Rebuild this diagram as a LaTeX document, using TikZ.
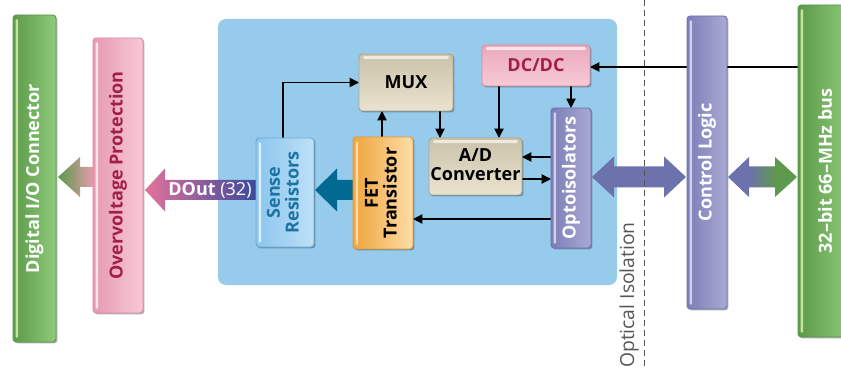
\documentclass[tikz,border=0pt]{standalone}
\usepackage{fontspec}
\setmainfont{Open Sans}
\usetikzlibrary{shadows,arrows.meta,calc}
\pgfdeclarelayer{bg}
\pgfdeclarelayer{arr}
\pgfsetlayers{bg,arr,main}
\definecolor{panelblue}{HTML}{97CBEC}
\definecolor{grD}{HTML}{5C9A4A}
\definecolor{grL}{HTML}{8ECC7C}
\definecolor{grB}{HTML}{5A9648}
\definecolor{grS}{HTML}{C2E49C}
\definecolor{pkD}{HTML}{E69AAF}
\definecolor{pkL}{HTML}{F8CAD5}
\definecolor{pkB}{HTML}{D88CA2}
\definecolor{pkS}{HTML}{FCE4EA}
\definecolor{pkT}{HTML}{A21E4D}
\definecolor{skD}{HTML}{8CC5EE}
\definecolor{skL}{HTML}{BDE1F7}
\definecolor{skB}{HTML}{6AAAD8}
\definecolor{skS}{HTML}{DCF0FC}
\definecolor{skT}{HTML}{1C74A4}
\definecolor{orD}{HTML}{F0A43E}
\definecolor{orL}{HTML}{FDDEA8}
\definecolor{orB}{HTML}{E49632}
\definecolor{orS}{HTML}{FBD9A0}
\definecolor{tnD}{HTML}{CBC2AA}
\definecolor{tnL}{HTML}{EAE3CF}
\definecolor{tnB}{HTML}{ADA48E}
\definecolor{tnS}{HTML}{EEEADF}
\definecolor{puD}{HTML}{7C7EB8}
\definecolor{puL}{HTML}{A9AAD2}
\definecolor{puB}{HTML}{6C70AC}
\definecolor{puS}{HTML}{CFCFE8}
\definecolor{arrBlue}{HTML}{6D72AD}
\definecolor{arrGreen}{HTML}{5E984C}
\definecolor{tealA}{HTML}{006A93}
\definecolor{doutL}{HTML}{E4729C}
\definecolor{doutR}{HTML}{3B4A9C}
\definecolor{dashg}{HTML}{555555}
\pgfdeclarehorizontalshading{bluegreen}{100bp}{color(0bp)=(arrBlue); color(25bp)=(arrBlue); color(40bp)=(arrBlue); color(60bp)=(arrGreen); color(75bp)=(arrGreen); color(100bp)=(arrGreen)}
\newcommand\fntA{\fontsize{13.5}{16}\selectfont\bfseries}
\newcommand\fntB{\fontsize{13.5}{16.5}\selectfont\bfseries}
\tikzset{
  boxat/.style n args={4}{at={($(#1,#2)!0.5!(#3,#4)$)}, minimum width={(#3-#1)*0.75pt}, minimum height={(#4-#2)*0.75pt}},
  box/.style={inner sep=0pt, outer sep=0pt, rounded corners=2.5pt, line width=0.7pt,
    drop shadow={shadow xshift=1.1pt, shadow yshift=-1.1pt, opacity=0.3, fill=black}},
  vstripe/.style={path picture={\fill[#1,rounded corners=1pt] ([xshift=2pt,yshift=-3pt]path picture bounding box.north west) rectangle ([xshift=3.8pt,yshift=3pt]path picture bounding box.south west);}},
  hstripe/.style={path picture={\fill[#1,rounded corners=1pt] ([xshift=3pt,yshift=-1.6pt]path picture bounding box.north west) rectangle ([xshift=-3pt,yshift=-3.8pt]path picture bounding box.north east);}},
  greenbar/.style={box, left color=grD, right color=grL, draw=grB, vstripe=grS, text=white},
  pinkbar/.style={box, left color=pkD, right color=pkL, draw=pkB, vstripe=pkS, text=pkT},
  purplebar/.style={box, left color=puD, right color=puL, draw=puB, vstripe=puS, text=white},
  skybar/.style={box, left color=skD, right color=skL, draw=skB, vstripe=skS, text=skT},
  orangebar/.style={box, left color=orD, right color=orL, draw=orB, vstripe=orS, text=black},
  tanbox/.style={box, top color=tnD, bottom color=tnL, draw=tnB, hstripe=tnS, text=black},
  pinkbox/.style={box, top color=pkD!85, bottom color=pkL, draw=pkB, hstripe=pkS, text=pkT},
  conn/.style={draw=black, line width=0.8pt, -{Triangle[length=7pt,width=7pt]}},
}
\begin{document}
\begin{tikzpicture}[x=0.75pt,y=-0.75pt]
\useasboundingbox (0,0) rectangle (841,370);
% boxes
\node[greenbar, boxat={13}{15}{56}{342}] (dio) {\rotatebox{90}{\fntA Digital I/O Connector}};
\node[pinkbar, boxat={93}{38}{143}{313}] (ovp) {\rotatebox{90}{\fntA Overvoltage Protection}};
\node[skybar, boxat={256}{138}{314}{247}] (sense) {\rotatebox{90}{\fntA\begin{tabular}{@{}c@{}}Sense\\[-2pt]Resistors\end{tabular}}};
\node[orangebar, boxat={353}{137}{413}{249}] (fet) {\rotatebox{90}{\fntA\begin{tabular}{@{}c@{}}FET\\[-2pt]Transistor\end{tabular}}};
\node[tanbox, boxat={359}{54}{453}{111}] (mux) {\fntB MUX};
\node[pinkbox, boxat={482}{45}{590}{86}] (dcdc) {\fntB DC/DC};
\node[tanbox, boxat={429}{138}{522}{195}] (adc) {\fntB\begin{tabular}{@{}c@{}}A/D\\[-2pt]Converter\end{tabular}};
\node[purplebar, boxat={551}{108}{591}{248}] (opto) {\rotatebox{90}{\fntA Optoisolators}};
\node[purplebar, boxat={687}{16}{727}{309}] (ctrl) {\rotatebox{90}{\fntA Control Logic}};
\node[greenbar, boxat={798}{5}{852}{337}] (bus) {\rotatebox{90}{\fntA 32--bit 66--MHz bus}};
% panel
\begin{pgfonlayer}{bg}
\node[boxat={218}{19}{617}{285}, inner sep=0pt, fill=panelblue, rounded corners=6pt] (panel) {};
\end{pgfonlayer}
% arrows and connectors
\begin{pgfonlayer}{arr}
\coordinate (ya) at (0,177);
\coordinate (yb) at (0,190);
% green arrow: overvoltage -> digital I/O
\coordinate (g1) at ($(dio.east |- ya)+(2,0)$);
\coordinate (g2) at (ovp.west |- ya);
\shade[left color=grD, right color=pkD] (g1) -- ++(22,-20) -- ++(0,10) -- ($(g2)+(0,-10)$) -- ($(g2)+(0,10)$) -- ($(g1)+(22,10)$) -- ++(0,10) -- cycle;
% DOut arrow
\coordinate (d1) at ($(ovp.east |- yb)+(2,0)$);
\coordinate (d2) at (sense.west |- yb);
\shade[left color=doutL, right color=doutR] (d1) -- ++(20,-21.5) -- ++(0,11.5) -- ($(d2)+(0,-10)$) -- ($(d2)+(0,10)$) -- ($(d1)+(20,10)$) -- ++(0,11.5) -- cycle;
% teal arrow FET -> sense
\coordinate (t1) at ($(sense.east |- yb)+(1,0)$);
\coordinate (t2) at (fet.west |- yb);
\fill[tealA] (t1) -- ++(22,-21.5) -- ++(0,11.5) -- ($(t2)+(0,-10)$) -- ($(t2)+(0,10)$) -- ($(t1)+(22,10)$) -- ++(0,11.5) -- cycle;
% double arrow opto <-> control
\coordinate (o1) at ($(opto.east |- ya)+(1,0)$);
\coordinate (o2) at ($(ctrl.west |- ya)+(-1,0)$);
\fill[arrBlue] (o1) -- ++(22,-20.5) -- ++(0,10) -- ($(o2)+(-22,-10.5)$) -- ++(0,-10) -- (o2) -- ++(-22,20.5) -- ++(0,-10) -- ($(o1)+(22,10.5)$) -- ++(0,10) -- cycle;
% double arrow control <-> bus
\coordinate (c1) at ($(ctrl.east |- ya)+(1,0)$);
\coordinate (c2) at ($(bus.west |- ya)+(-1,0)$);
\shade[shading=bluegreen] (c1) -- ++(21,-20) -- ++(0,9.5) -- ($(c2)+(-22,-10.5)$) -- ++(0,-9.5) -- (c2) -- ++(-22,20) -- ++(0,-9.5) -- ($(c1)+(21,10.5)$) -- ++(0,9.5) -- cycle;
% thin connectors
\draw[conn] (sense.north -| 283,0) |- (mux.west);
\draw[conn] (fet.north -| 382,0) -- (mux.south -| 382,0);
\draw[conn] (mux.south -| 440,0) -- (adc.north -| 440,0);
\draw[conn] (dcdc.south -| 499,0) -- (adc.north -| 499,0);
\draw[conn] (dcdc.south -| opto.north) -- (opto.north);
\draw[conn] (opto.west |- 0,157) -- (adc.east |- 0,157);
\draw[conn] (adc.east |- 0,179) -- (opto.west |- 0,179);
\draw[conn] (opto.west |- 0,219) -- (fet.east |- 0,219);
\draw[conn] (bus.west |- 0,67) -- (dcdc.east |- 0,67);
% optical isolation line
\coordinate (dtop) at (644,0);
\coordinate (dbot) at (644,370);
\draw[dashg, line width=0.75pt, dash pattern=on 4.5pt off 3pt] (dtop) -- (dbot);
\end{pgfonlayer}
\node[text=white, inner sep=0pt] (doutlbl) at (210,190) {\fontsize{13.5}{16}\selectfont\textbf{DOut} (32)};
\node[rotate=90, text=dashg, inner sep=0pt, anchor=south] (optlbl) at (639,295) {\fontsize{14.5}{16}\selectfont Optical Isolation};
\end{tikzpicture}
\end{document}
